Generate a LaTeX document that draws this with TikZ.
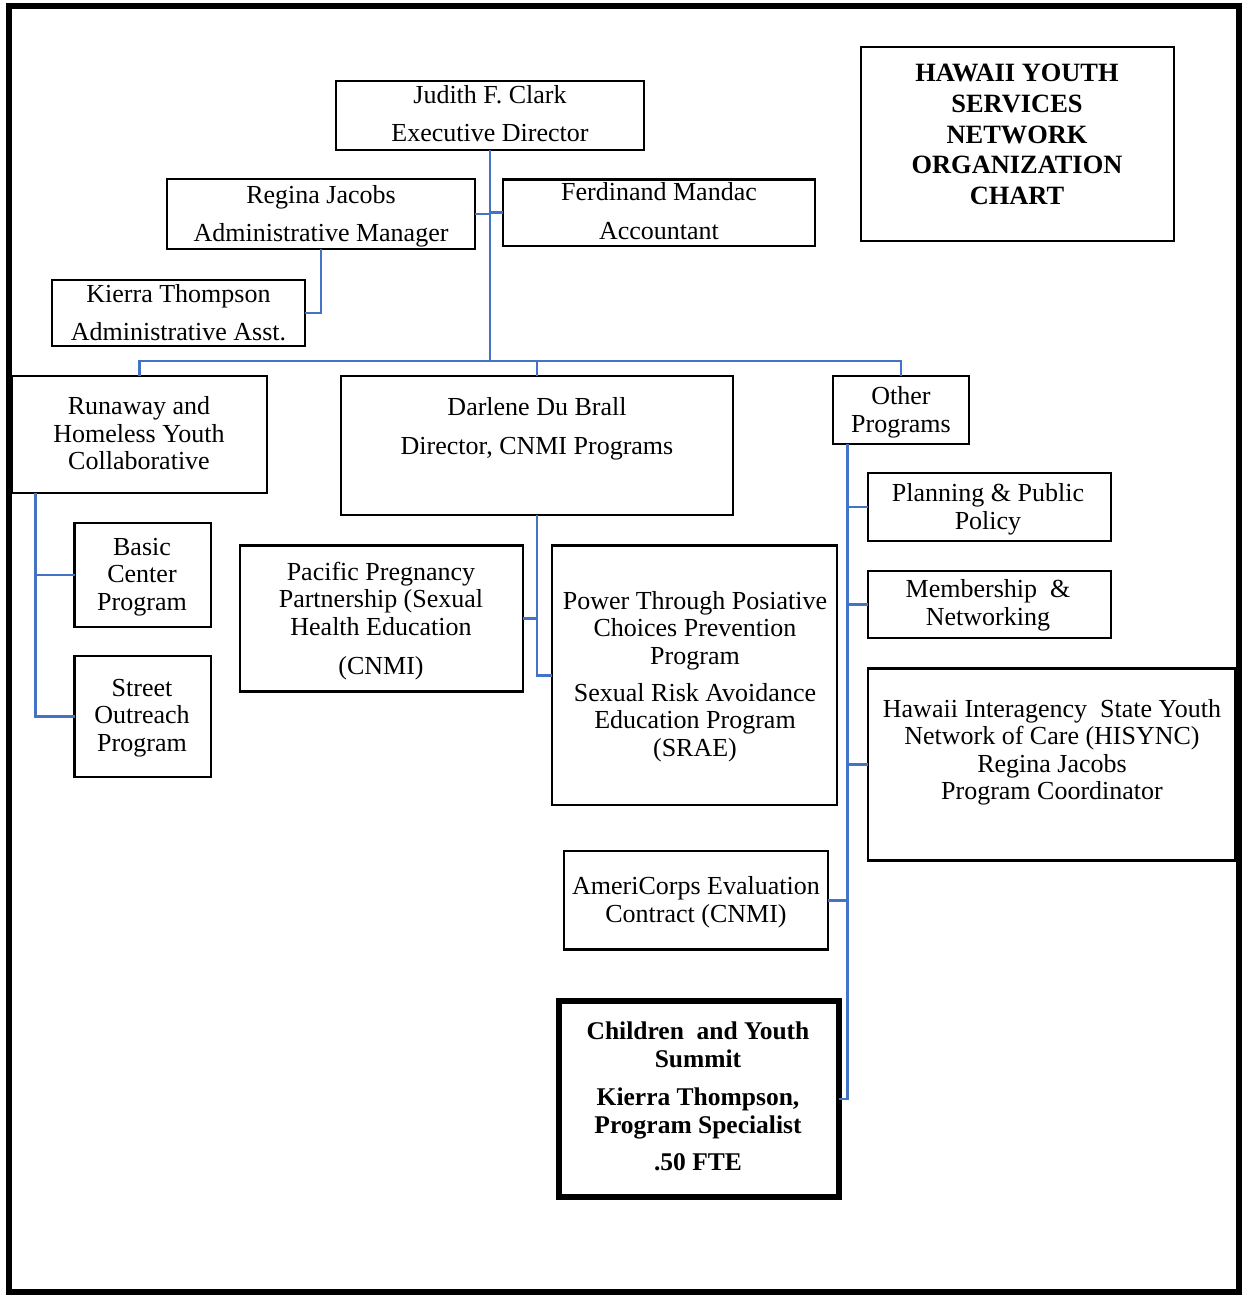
\documentclass[tikz,border=0pt]{standalone}
\usepackage{fontspec}
\setmainfont{Liberation Serif}
\definecolor{linkblue}{HTML}{4472C4}
\begin{document}
\begin{tikzpicture}[x=1pt,y=-1pt,
  box/.style={draw, line width=2.4pt, inner sep=0pt, outer sep=0pt},
  thickbox/.style={draw, line width=5.5pt, inner sep=0pt, outer sep=0pt},
  txt/.style={align=center, inner sep=0pt, font=\fontsize{26}{27.5}\selectfont},
  boldtxt/.style={align=center, inner sep=0pt, font=\fontsize{26.4}{30.75}\selectfont\bfseries},
  link/.style={draw=linkblue, line width=2.6pt}]
\useasboundingbox (0,0) rectangle (1243,1299);
\fill[white] (0,0) rectangle (1243,1299);
\draw[line width=6pt] (9,5.5) rectangle (1239,1291.5);

% boxes
\node[box, minimum width=308pt, minimum height=69pt] (judith) at (490,115.5) {};
\node[box, minimum width=308pt, minimum height=70pt] (regina) at (321,214) {};
\node[box, minimum width=312pt, minimum height=66.5pt] (ferd) at (659,212.75) {};
\node[box, minimum width=253pt, minimum height=66pt] (kierra) at (178.5,313) {};
\node[box, minimum width=313pt, minimum height=194pt] (title) at (1017.5,144) {};
\node[box, minimum width=255pt, minimum height=117pt] (runaway) at (139.5,434.5) {};
\node[box, minimum width=392pt, minimum height=139pt] (darlene) at (537,445.5) {};
\node[box, minimum width=136pt, minimum height=68pt] (other) at (901,410) {};
\node[box, minimum width=136.5pt, minimum height=104pt] (basic) at (142.75,575) {};
\node[box, minimum width=136.5pt, minimum height=121pt] (street) at (142.75,716.5) {};
\node[box, minimum width=283pt, minimum height=146pt] (pacific) at (381.5,618.5) {};
\node[box, minimum width=285pt, minimum height=259.5pt] (power) at (694.5,675.25) {};
\node[box, minimum width=243pt, minimum height=68pt] (planning) at (989.5,507) {};
\node[box, minimum width=243pt, minimum height=67pt] (member) at (989.5,604.5) {};
\node[box, minimum width=367pt, minimum height=192pt] (hawaii) at (1051.5,764.5) {};
\node[box, minimum width=264pt, minimum height=98.5pt] (ameri) at (696,900.25) {};
\node[thickbox, minimum width=280pt, minimum height=196pt] (children) at (699,1099) {};

% texts
\node[txt] (judith-t) at (490,114) {Judith F. Clark\\[10.5pt]Executive Director};
\node[txt] (regina-t) at (321,216) {Regina Jacobs\\[10.5pt]Administrative Manager};
\node[txt] (ferd-t) at (659,211.5) {Ferdinand Mandac\\[11.5pt]Accountant};
\node[txt] (kierra-t) at (178.5,313) {Kierra Thompson\\[10.5pt]Administrative Asst.};
\node[boldtxt] (title-t) at (1017,134.5) {HAWAII YOUTH\\SERVICES\\NETWORK\\ORGANIZATION\\CHART};
\node[txt] (runaway-t) at (139,433.5) {Runaway and\\Homeless Youth\\Collaborative};
\node[txt] (darlene-t) at (537,429) {Darlene Du Brall\\[11.5pt]Director, CNMI Programs};
\node[txt] (other-t) at (901,412.5) {Other\\Programs};
\node[txt] (basic-t) at (142,577) {Basic\\Center\\Program};
\node[txt] (street-t) at (142,718) {Street\\Outreach\\Program};
\node[txt] (pacific-t) at (381,621) {Pacific Pregnancy\\Partnership (Sexual\\Health Education\\[11.5pt](CNMI)};
\node[txt] (power-t) at (695,676.5) {Power Through Posiative\\Choices Prevention\\Program\\[9.5pt]Sexual Risk Avoidance\\Education Program\\(SRAE)};
\node[txt] (planning-t) at (988,509.5) {Planning \& Public\\Policy};
\node[txt] (member-t) at (988,605.5) {Membership~~\&\\Networking};
\node[txt] (hawaii-t) at (1052,752.5) {Hawaii Interagency~~State Youth\\Network of Care (HISYNC)\\Regina Jacobs\\Program Coordinator};
\node[txt] (ameri-t) at (696,902) {AmeriCorps Evaluation\\Contract (CNMI)};
\node[align=center, inner sep=0pt, font=\fontsize{25.5}{28}\selectfont\bfseries] (children-t) at (698,1096.5)
  {Children~~and Youth\\Summit\\[10pt]Kierra Thompson,\\Program Specialist\\[9pt].50 FTE};

% connectors
\coordinate (busy) at (0,361);
\draw[link] (judith.south) -- (judith.south |- busy);
\draw[link] (regina.east) -- (regina.east -| judith.south);
\draw[link] (ferd.west) -- (ferd.west -| judith.south);
\draw[link] (regina.south) |- (kierra.east);
\draw[link] (runaway.north) -- (runaway.north |- busy) -| (other.north);
\draw[link] (darlene.north) -- (darlene.north |- busy);
\draw[link] ([xshift=23.6pt]runaway.south west) |- (basic.west);
\draw[link] ([xshift=23.6pt]runaway.south west) |- (street.west);
\draw[link] (darlene.south) |- (pacific.east);
\draw[link] (darlene.south) |- (power.west);
\draw[link] ([xshift=14.3pt]other.south west) |- (planning.west);
\draw[link] ([xshift=14.3pt]other.south west) |- (member.west);
\draw[link] ([xshift=14.3pt]other.south west) |- (hawaii.west);
\draw[link] ([xshift=14.3pt]other.south west) |- (ameri.east);
\draw[link] ([xshift=14.3pt]other.south west) |- (children.east);
\end{tikzpicture}
\end{document}
